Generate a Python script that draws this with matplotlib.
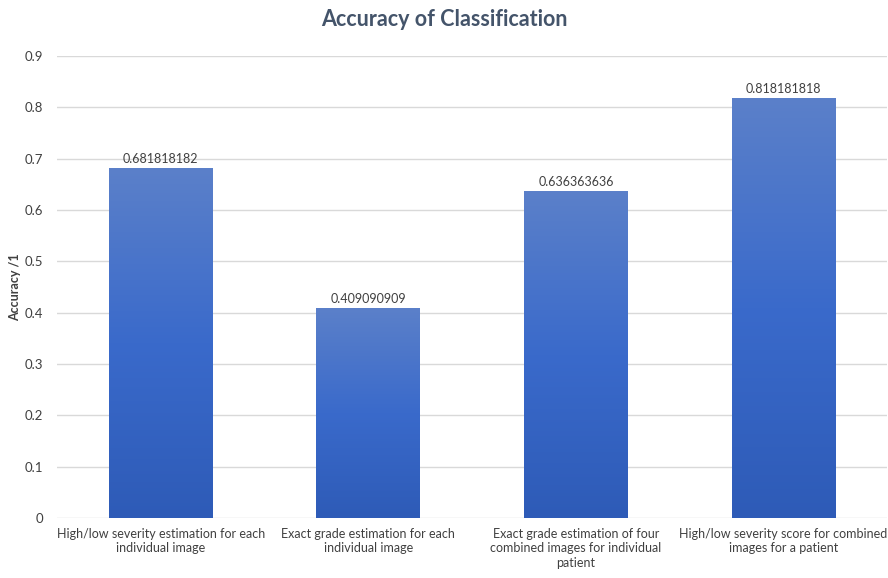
import numpy as np
import matplotlib.pyplot as plt
from matplotlib.colors import LinearSegmentedColormap

plt.rcParams['font.family'] = ['Lato', 'DejaVu Sans']

categories = ['High/low severity estimation for each\nindividual image',
              'Exact grade estimation for each\nindividual image',
              'Exact grade estimation of four\ncombined images for individual\npatient',
              'High/low severity score for combined\nimages for a patient']
accuracy = [0.681818182, 0.409090909, 0.636363636, 0.818181818]
value_labels = ['0.681818182', '0.409090909', '0.636363636', '0.818181818']

fig = plt.figure(figsize=(8.88, 5.78), dpi=100)
ax = fig.add_axes([0.0642, 0.1038, 0.935, 0.7993])

x = np.arange(len(categories))
bars = ax.bar(x, accuracy, width=0.5, color='none', zorder=3)

# vertical gradient fill like the original (lighter top, darker bottom)
cmap = LinearSegmentedColormap.from_list('g', ['#2E5BB7', '#3A6ACB', '#5B80C9'])
grad = np.linspace(0, 1, 256).reshape(-1, 1)
for b in bars:
    x0, w, h = b.get_x(), b.get_width(), b.get_height()
    im = ax.imshow(grad, cmap=cmap, aspect='auto', origin='lower',
                   extent=[x0, x0 + w, 0, h], zorder=3)
    im.set_clip_path(b)

for xi, v, t in zip(x, accuracy, value_labels):
    ax.text(xi, v + 0.006, t, ha='center', va='bottom', fontsize=9, color='#404040')

ax.set_xlim(-0.5, 3.5)
ax.set_ylim(0, 0.9)
ax.set_yticks(np.arange(0, 0.91, 0.1))
ax.set_yticklabels(['0'] + [f'{v:.1f}' for v in np.arange(0.1, 0.91, 0.1)])
ax.set_xticks(x)
ax.set_xticklabels(categories, fontsize=9, color='#404040', linespacing=1.25)
ax.tick_params(axis='y', labelsize=9.5, colors='#404040', length=0, pad=10)
ax.tick_params(axis='x', length=0, pad=7)
ax.grid(axis='y', color='#D9D9D9', lw=1, zorder=0)
for s in ax.spines.values():
    s.set_visible(False)

ax.set_ylabel('Accuracy /1', fontsize=9, fontweight='bold', color='#404040')
ax.yaxis.set_label_coords(-0.043, 0.5)
fig.suptitle('Accuracy of Classification', fontsize=15.5, fontweight='bold', color='#44546A', y=0.985)

fig.savefig('out.png', dpi=100)
